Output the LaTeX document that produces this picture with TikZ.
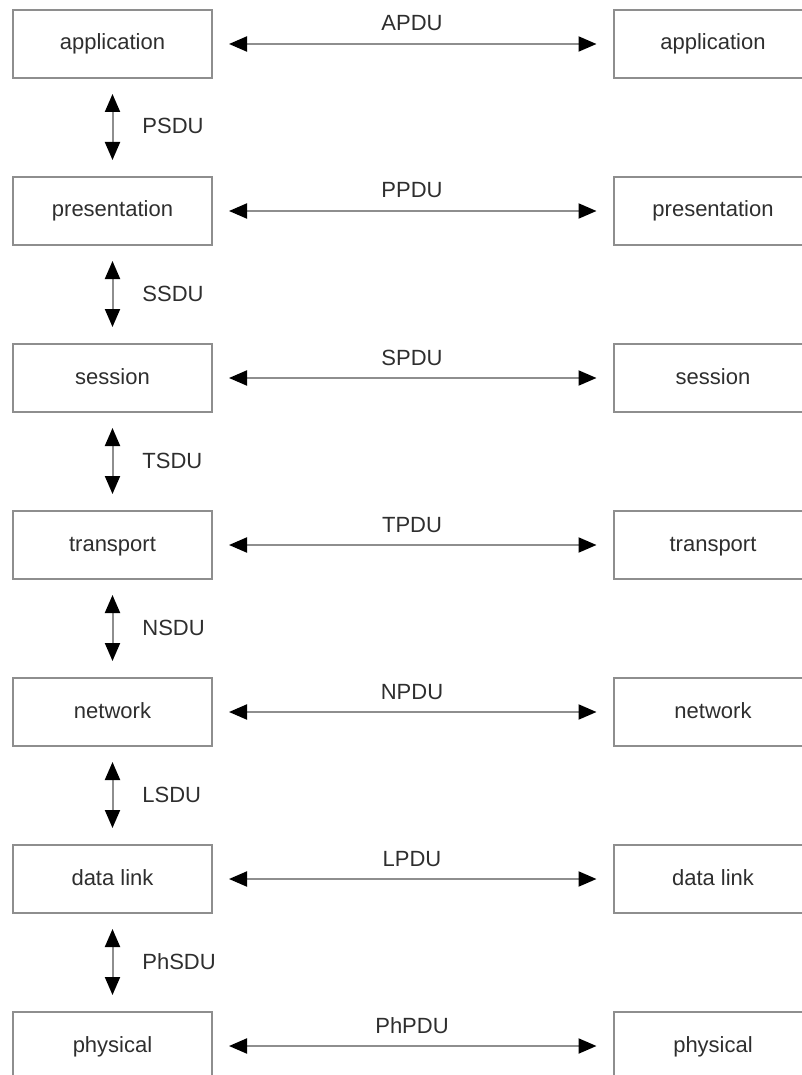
\documentclass[tikz,border=0pt]{standalone}
\usepackage{fontspec}
\setmainfont{Liberation Sans}
\usetikzlibrary{arrows.meta}
\definecolor{edge}{HTML}{8E8E8E}
\definecolor{ink}{HTML}{2E2E2E}
\tikzset{
  layer/.style={draw=edge, line width=1pt, minimum width=99.5pt, minimum height=34pt,
    inner sep=0pt, text=ink, font=\fontsize{11}{13}\selectfont,
    text height=8pt, text depth=2pt},
  pdu/.style={text=ink, font=\fontsize{11}{13}\selectfont, inner sep=0pt, anchor=base},
  sdu/.style={text=ink, font=\fontsize{11}{13}\selectfont, inner sep=0pt, anchor=base west},
  link/.style={draw=edge, line width=1pt,
    {Triangle[length=9pt,width=7.5pt,color=black]}-{Triangle[length=9pt,width=7.5pt,color=black]}},
  hlink/.style={link, shorten <=8pt, shorten >=8pt},
  vlink/.style={link, shorten <=7.5pt, shorten >=8pt}
}
\begin{document}
\begin{tikzpicture}[x=0.5pt,y=-0.5pt]
  \useasboundingbox (0,0) rectangle (802,1075);
  \clip (0,0) rectangle (802,1075);
  % the seven layers on both sides, with the peer protocol between them
  \foreach \name/\pdu [count=\i from 0] in
      {application/APDU, presentation/PPDU, session/SPDU, transport/TPDU,
       network/NPDU, data link/LPDU, physical/PhPDU} {
    \node[layer] (L\i) at (112.5, 44+167*\i) {\name};
    \node[layer] (R\i) at (713, 44+167*\i) {\name};
    \draw[hlink] (L\i) -- (R\i);
    \node[pdu] (P\i) at (412, 31+167*\i) {\pdu};
  }
  % service data units passed between adjacent layers
  \foreach \sdu [count=\i from 0] in {PSDU, SSDU, TSDU, NSDU, LSDU, PhSDU} {
    \pgfmathtruncatemacro{\j}{\i+1}
    \draw[vlink] (L\i.south) -- (L\j.north);
    \node[sdu] (S\i) at (142, 134+167*\i) {\sdu};
  }
\end{tikzpicture}
\end{document}
